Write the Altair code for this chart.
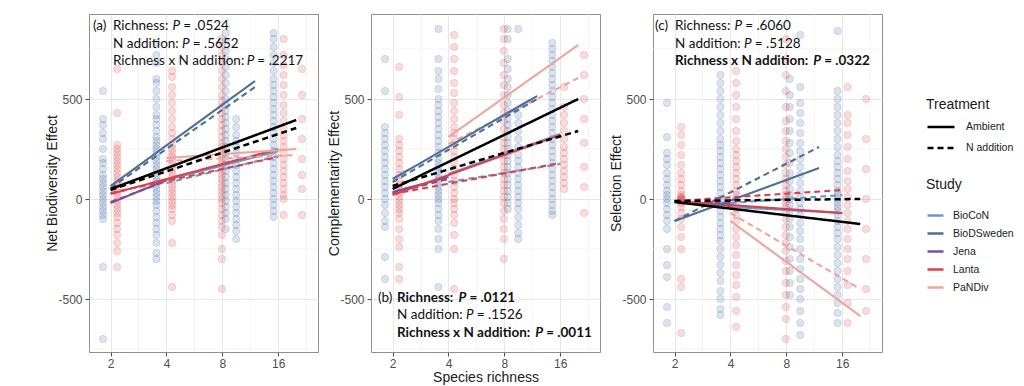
import altair as alt
import pandas as pd

# ---------------- data ----------------
PANEL_TITLES = ["Net Biodiversity Effect", "Complementarity Effect", "Selection Effect"]
STUDIES = ["BioCoN", "BioDSweden", "Jena", "Lanta", "PaNDiv"]
STUDY_COLORS = ["#6f95c9", "#4e6e98", "#7b4d9a", "#d9414b", "#eda59e"]
TREATMENTS = ["Ambient", "N addition"]
X_TICKS = [2, 4, 8, 16]
X_MINOR = [2.83, 5.66, 11.31, 22.63]
Y_TICKS = [-500, 0, 500]
Y_MINOR = [-750, -250, 250, 750]
X_DOMAIN = [1.53, 26.2]
Y_DOMAIN = [-765, 925]
POINT_BLUE = "#4d72a8"
POINT_RED = "#dd5050"

# raw plot-level observations (richness position as drawn, y values)
nbe_blue_2 = [540, 400, 370, 330, 300, 250, 200, 180, 150, 120, 100, 80, 60, 40, 20, 0, -20, -40, -60, -80, -100, -340, -700]
nbe_red_2 = [650, 430, 270, 250, 230, 210, 190, 170, 150, 130, 110, 90, 70, 50, 30, 10, -10, -30, -50, -70, -90, -120, -150, -180, -220, -260, -340]
nbe_blue_4 = [780, 720, 680, 600, 580, 540, 500, 460, 420, 400, 370, 340, 310, 290, 270, 250, 230, 210, 190, 170, 150, 130, 110, 90, 70, 50, 30, 10, -10, -30, -60, -90, -120, -150, -180, -220, -270, -300]
nbe_red_4 = [640, 610, 560, 520, 480, 440, 400, 360, 330, 300, 270, 250, 230, 210, 190, 170, 150, 130, 110, 90, 70, 50, 30, 10, -10, -30, -50, -80, -110, -220, -440]
nbe_red_8 = [800, 760, 720, 680, 640, 600, 560, 520, 490, 460, 430, 400, 370, 340, 310, 280, 260, 240, 220, 200, 180, 160, 140, 120, 100, 80, 60, 40, 20, 0, -20, -50, -80, -110, -140, -180, -250, -300, -450]
nbe_blue_8 = [830, 790, 740, 700, 660, 620, 580, 540, 500, 470, 440, 410, 380, 350, 320, 290, 260, 230, 200, 170, 140, 110, 80, 50, 20, -10, -40, -70, -100, -150]
nbe_blue_9 = [400, 360, 320, 290, 260, 230, 200, 170, 140, 110, 80, 50, 20, -10, -40, -70, -100, -130, -160, -200]
nbe_blue_16 = [830, 800, 760, 720, 680, 640, 600, 570, 540, 510, 480, 450, 420, 390, 360, 330, 300, 270, 240, 210, 180, 150, 120, 90, 60, 30, 0, -30, -60, -90]
nbe_red_16 = [800, 720, 670, 620, 570, 520, 470, 430, 390, 350, 320, 290, 260, 230, 200, 170, 140, 110, 80, 50, 20, 0, -80]
nbe_red_20 = [650, 520, 400, 300, 200, 120, 50, -80]

ce_blue_2 = [700, 540, 360, 330, 300, 270, 240, 210, 180, 150, 120, 90, 60, 30, 0, -30, -70, -110, -140, -290, -400]
ce_red_2 = [660, 510, 420, 300, 270, 240, 210, 180, 150, 120, 90, 70, 50, 30, 10, -10, -30, -50, -70, -100, -150, -200, -240, -340, -400]
ce_blue_4 = [850, 700, 640, 600, 550, 500, 470, 440, 410, 380, 350, 320, 290, 260, 230, 200, 180, 160, 140, 120, 100, 80, 60, 40, 20, 0, -20, -50, -80, -110, -150, -200, -250, -440]
ce_red_4 = [820, 760, 700, 640, 580, 530, 480, 440, 400, 360, 330, 300, 270, 240, 210, 180, 150, 120, 90, 60, 30, 0, -20, -50, -80, -120, -180, -250, -450]
ce_red_8 = [850, 800, 740, 680, 620, 570, 520, 470, 430, 390, 350, 310, 280, 250, 220, 190, 160, 130, 100, 70, 40, 10, -20, -60, -100, -150, -200, -300]
ce_blue_8 = [850, 800, 700, 650, 600, 560, 520, 480, 440, 400, 370, 340, 310, 280, 250, 220, 190, 160, 130, 100, 70, 40, 10, -20, -50]
ce_blue_9 = [850, 420, 380, 340, 300, 260, 220, 190, 160, 130, 100, 70, 40, 10, -20, -50, -90, -130, -170, -200]
ce_blue_16 = [780, 750, 720, 690, 660, 630, 600, 570, 540, 510, 480, 450, 420, 390, 360, 330, 300, 270, 240, 210, 180, 150, 120, 90, 60, 30, 0, -30, -60, -80]
ce_red_16 = [560, 460, 420, 380, 340, 300, 260, 230, 200, 170, 140, 110, 80, 50]
ce_red_20 = [720, 620, 500, 400, 280, 160, 60, -70]

se_blue_2 = [480, 310, 230, 200, 170, 130, 100, 70, 40, 20, 0, -20, -50, -80, -110, -150, -250, -330, -390, -540, -620]
se_red_2 = [360, 320, 270, 220, 170, 130, 100, 70, 40, 20, 10, 5, 0, 0, -5, -10, -20, -40, -70, -100, -140, -190, -250, -400, -440, -670]
se_blue_4 = [620, 580, 540, 500, 460, 420, 380, 340, 300, 270, 240, 210, 180, 150, 120, 90, 60, 30, 0, -30, -60, -90, -120, -150, -180, -210, -250, -290, -330, -370, -410, -460, -500, -550, -580]
se_red_4 = [640, 580, 520, 460, 400, 340, 290, 250, 220, 190, 160, 130, 100, 70, 40, 20, 0, -20, -50, -80, -110, -150, -190, -230, -280, -330, -380, -430, -490, -560, -640]
se_red_8 = [800, 700, 620, 540, 460, 390, 340, 290, 250, 210, 170, 130, 100, 70, 40, 20, 0, -20, -40, -70, -100, -140, -180, -220, -260, -310, -360, -420, -480, -540, -600, -700]
se_blue_8 = [600, 520, 460, 400, 340, 280, 230, 180, 130, 90, 50, 20, 0, -30, -60, -100, -140, -190, -240, -300, -360, -420, -480]
se_blue_9 = [820, 560, 480, 430, 380, 330, 280, 240, 200, 160, 120, 80, 40, 10, -20, -50, -80, -120, -160, -200, -250, -300, -350, -400, -450, -500, -560, -620, -680]
se_blue_16 = [840, 540, 500, 460, 420, 380, 340, 300, 260, 220, 190, 160, 130, 100, 70, 40, 20, 0, -20, -40, -60, -80, -110, -140, -170, -200, -240, -280, -320, -360, -400, -440, -480, -520, -570, -620]
se_red_16 = [560, 420, 380, 320, 260, 200, 140, 90, 50, 10, -30, -70, -110, -150, -200, -250, -300, -360, -430, -520, -620]
se_red_20 = [500, 300, 150, 0, -150, -300, -450, -560]

# (panel, colour group, drawn richness position, values)
POINT_COLUMNS = [
    (0, "blue", 1.82, nbe_blue_2), (0, "red", 2.17, nbe_red_2),
    (0, "blue", 3.53, nbe_blue_4), (0, "red", 4.29, nbe_red_4),
    (0, "red", 7.95, nbe_red_8), (0, "blue", 8.34, nbe_blue_8),
    (0, "blue", 9.5, nbe_blue_9), (0, "blue", 15.1, nbe_blue_16),
    (0, "red", 17.1, nbe_red_16), (0, "red", 21.5, nbe_red_20),
    (1, "blue", 1.82, ce_blue_2), (1, "red", 2.17, ce_red_2),
    (1, "blue", 3.53, ce_blue_4), (1, "red", 4.29, ce_red_4),
    (1, "red", 7.95, ce_red_8), (1, "blue", 8.34, ce_blue_8),
    (1, "blue", 9.5, ce_blue_9), (1, "blue", 14.5, ce_blue_16),
    (1, "red", 16.8, ce_red_16), (1, "red", 21.5, ce_red_20),
    (2, "blue", 1.82, se_blue_2), (2, "red", 2.17, se_red_2),
    (2, "blue", 3.53, se_blue_4), (2, "red", 4.29, se_red_4),
    (2, "red", 7.95, se_red_8), (2, "blue", 8.34, se_blue_8),
    (2, "blue", 9.5, se_blue_9), (2, "blue", 15.1, se_blue_16),
    (2, "red", 17.1, se_red_16), (2, "red", 21.5, se_red_20),
]

# fitted lines: (study, treatment, richness start, value start, richness end, value end)
nbe_fits = [
    ("BioCoN", "Ambient", 4, 95, 16, 240), ("BioCoN", "N addition", 4, 80, 16, 215),
    ("Jena", "Ambient", 2, -20, 4, 95), ("Jena", "N addition", 2, -15, 4, 90),
    ("Lanta", "Ambient", 2, 25, 16, 250), ("Lanta", "N addition", 2, 30, 16, 210),
    ("PaNDiv", "Ambient", 4, 205, 20, 250), ("PaNDiv", "N addition", 4, 190, 20, 220),
    ("BioDSweden", "N addition", 2, 55, 12, 560), ("BioDSweden", "Ambient", 2, 65, 12, 590),
]
ce_fits = [
    ("BioCoN", "Ambient", 4, 125, 16, 325), ("BioCoN", "N addition", 4, 85, 16, 175),
    ("Jena", "Ambient", 2, 35, 4, 110), ("Jena", "N addition", 2, 30, 4, 100),
    ("Lanta", "Ambient", 2, 20, 16, 320), ("Lanta", "N addition", 2, 25, 16, 180),
    ("PaNDiv", "Ambient", 4, 310, 20, 770), ("PaNDiv", "N addition", 4, 275, 20, 605),
    ("BioDSweden", "N addition", 2, 85, 12, 500), ("BioDSweden", "Ambient", 2, 100, 12, 515),
]
se_fits = [
    ("BioCoN", "Ambient", 4, -40, 16, -70), ("BioCoN", "N addition", 4, -20, 16, 20),
    ("Jena", "Ambient", 2, -15, 4, -35), ("Jena", "N addition", 2, -10, 4, -20),
    ("Lanta", "Ambient", 2, -10, 16, -70), ("Lanta", "N addition", 2, -10, 16, 45),
    ("PaNDiv", "Ambient", 4, -110, 20, -585), ("PaNDiv", "N addition", 4, -70, 20, -450),
    ("BioDSweden", "N addition", 2, -110, 12, 260), ("BioDSweden", "Ambient", 2, -110, 12, 155),
]
# overall fits (black): (treatment, richness start, value start, richness end, value end)
nbe_overall = [("Ambient", 2, 50, 20, 395), ("N addition", 2, 45, 20, 355)]
ce_overall = [("Ambient", 2, 50, 20, 500), ("N addition", 2, 65, 20, 340)]
se_overall = [("Ambient", 2, -15, 20, -125), ("N addition", 2, -10, 20, 0)]

FITS = [nbe_fits, ce_fits, se_fits]
OVERALL = [nbe_overall, ce_overall, se_overall]

# P-value annotation texts: (label, term, p value, bold)
ANN_TEXT = [
    [("(a)", "Richness:", ".0524", False), ("", "N addition:", ".5652", False), ("", "Richness x N addition:", ".2217", False)],
    [("(b)", "Richness:", ".0121", True), ("", "N addition:", ".1526", False), ("", "Richness x N addition:", ".0011", True)],
    [("(c)", "Richness:", ".6060", False), ("", "N addition:", ".5128", False), ("", "Richness x N addition:", ".0322", True)],
]

# ---------------- tables ----------------
pt_rows = []
for panel, grp, xpos, ys in POINT_COLUMNS:
    for v in ys:
        pt_rows.append({"panel": panel, "grp": grp, "richness": xpos, "value": v})
points_df = pd.DataFrame(pt_rows)

line_rows, overall_rows = [], []
for p, fits in enumerate(FITS):
    for k, (st, tr, x0, y0, x1, y1) in enumerate(fits):
        fid = f"{p}-{k}"
        line_rows.append({"panel": p, "study": st, "treatment": tr, "fid": fid, "richness": x0, "value": y0})
        line_rows.append({"panel": p, "study": st, "treatment": tr, "fid": fid, "richness": x1, "value": y1})
for p, fits in enumerate(OVERALL):
    for k, (tr, x0, y0, x1, y1) in enumerate(fits):
        fid = f"o{p}-{k}"
        overall_rows.append({"panel": p, "treatment": tr, "fid": fid, "richness": x0, "value": y0})
        overall_rows.append({"panel": p, "treatment": tr, "fid": fid, "richness": x1, "value": y1})
lines_df = pd.DataFrame(line_rows)
overall_df = pd.DataFrame(overall_rows)

# ---------------- chart ----------------
W, H = 229, 338
ANN_FONT = "Lato"
ANN_SIZE = 13.5
one_row = pd.DataFrame({"k": [0]})

# approximate Lato advance widths (per 1000 em) for laying out mixed-style text
LATO_W = {" ": 193, "(": 297, ")": 297, "a": 486, "b": 552, "c": 461, "d": 552, "e": 522,
          "h": 550, "i": 232, "n": 550, "o": 552, "r": 361, "s": 415, "t": 343, "x": 486,
          "N": 748, "R": 605, "P": 573, "=": 580, ".": 218, ":": 239}


def tw(s, bold=False):
    return sum(LATO_W.get(c, 580) for c in s) * ANN_SIZE / 1000 * (1.07 if bold else 1.035)


xscale = alt.Scale(type="log", base=2, domain=X_DOMAIN, nice=False)
yscale = alt.Scale(domain=Y_DOMAIN, nice=False, zero=False)

color_enc = alt.Color(
    "study:N",
    scale=alt.Scale(domain=STUDIES, range=STUDY_COLORS),
    legend=alt.Legend(title="Study", orient="none", legendX=837, legendY=164,
                      symbolType="stroke", symbolSize=256, symbolStrokeWidth=2.5,
                      titlePadding=14, rowPadding=3, labelOffset=8),
)
dash_enc = alt.StrokeDash(
    "treatment:N",
    scale=alt.Scale(domain=TREATMENTS, range=[[1, 0], [6, 4]]),
    legend=alt.Legend(title="Treatment", orient="none", legendX=837, legendY=84,
                      symbolType="stroke", symbolSize=729, symbolStrokeWidth=2.6,
                      symbolStrokeColor="black", titlePadding=0, rowPadding=-10,
                      labelOffset=10),
)

# annotation layout in panel pixels: (line y, left of label, left of term)
ANN_POS = [
    [(12, 4, 24), (30, None, 24), (47, None, 24)],
    [(284, 7, 26), (301, None, 26), (319, None, 26)],
    [(12, 2, 22), (30, None, 22), (47, None, 22)],
]


def txt(text, x, y, bold=False, italic=False):
    kw = dict(text=text, align="left", baseline="middle", font=ANN_FONT, fontSize=ANN_SIZE,
              color="#111111", fontWeight="bold" if bold else "normal")
    if italic:
        kw["fontStyle"] = "italic"
    return alt.Chart(one_row).mark_text(**kw).encode(x=alt.value(x), y=alt.value(y))


def make_panel(i):
    xaxis_kw = dict(values=X_TICKS, format="d", grid=True)
    xaxis_kw["title"] = "Species richness" if i == 1 else None
    xaxis = alt.Axis(**xaxis_kw)
    yaxis = alt.Axis(values=Y_TICKS, title=PANEL_TITLES[i], grid=True,
                     labelExpr="'' + datum.value")

    def X(f):
        return alt.X(f, type="quantitative", scale=xscale, axis=xaxis)

    def Y(f):
        return alt.Y(f, type="quantitative", scale=yscale, axis=yaxis)

    gx = alt.Chart(pd.DataFrame({"richness": X_MINOR})).mark_rule(
        color="#ececec", strokeWidth=0.6).encode(x=X("richness"))
    gy = alt.Chart(pd.DataFrame({"value": Y_MINOR})).mark_rule(
        color="#ececec", strokeWidth=0.6).encode(y=Y("value"))

    pts = points_df[points_df.panel == i]
    layers = [gx, gy]
    for grp, col in (("blue", POINT_BLUE), ("red", POINT_RED)):
        layers.append(
            alt.Chart(pts[pts.grp == grp]).mark_circle(
                size=54, fill=col, fillOpacity=0.2, stroke=col,
                strokeOpacity=0.24, strokeWidth=0.8
            ).encode(x=X("richness"), y=Y("value"))
        )
    layers.append(
        alt.Chart(lines_df[lines_df.panel == i]).mark_line(strokeWidth=2.1).encode(
            x=X("richness"), y=Y("value"), color=color_enc, strokeDash=dash_enc,
            detail="fid:N")
    )
    layers.append(
        alt.Chart(overall_df[overall_df.panel == i]).mark_line(
            color="black", strokeWidth=2.5).encode(
            x=X("richness"), y=Y("value"), strokeDash=dash_enc, detail="fid:N")
    )
    for k, ((lab, term, pval, bold), (y, labx, termx)) in enumerate(zip(ANN_TEXT[i], ANN_POS[i])):
        if lab:
            layers.append(txt(lab, labx, y))
        x = termx
        layers.append(txt(term, x, y, bold))
        x += tw(term + " ", bold) + 1
        layers.append(txt("P", x, y, bold, True))
        x += tw("P ", bold)
        layers.append(txt("= " + pval, x, y, bold))
    return alt.layer(*layers).properties(width=W, height=H)


chart = alt.hconcat(make_panel(0), make_panel(1), make_panel(2), spacing=8).properties(
    padding={"left": 37, "top": 5, "right": 0, "bottom": 0}
).configure_view(
    stroke="#8f8f8f", strokeWidth=1
).configure_axis(
    labelFont="Liberation Sans", labelFontSize=12, labelColor="#4d4d4d",
    titleFont="Liberation Sans", titleFontSize=14, titleFontWeight="normal",
    titleColor="#1a1a1a", tickColor="#4d4d4d", tickSize=4, labelPadding=3,
    domain=False, gridColor="#e6e6e6", gridWidth=1
).configure_axisY(
    titlePadding=-2
).configure_axisX(
    titlePadding=1, labelPadding=2
).configure_legend(
    titleFont="Liberation Sans", titleFontSize=14, titleFontWeight="normal",
    titleColor="#1a1a1a", labelFont="Liberation Sans", labelFontSize=10.5,
    labelColor="#1a1a1a"
)

chart.save("out.html", embed_options={"renderer": "svg", "actions": False})
